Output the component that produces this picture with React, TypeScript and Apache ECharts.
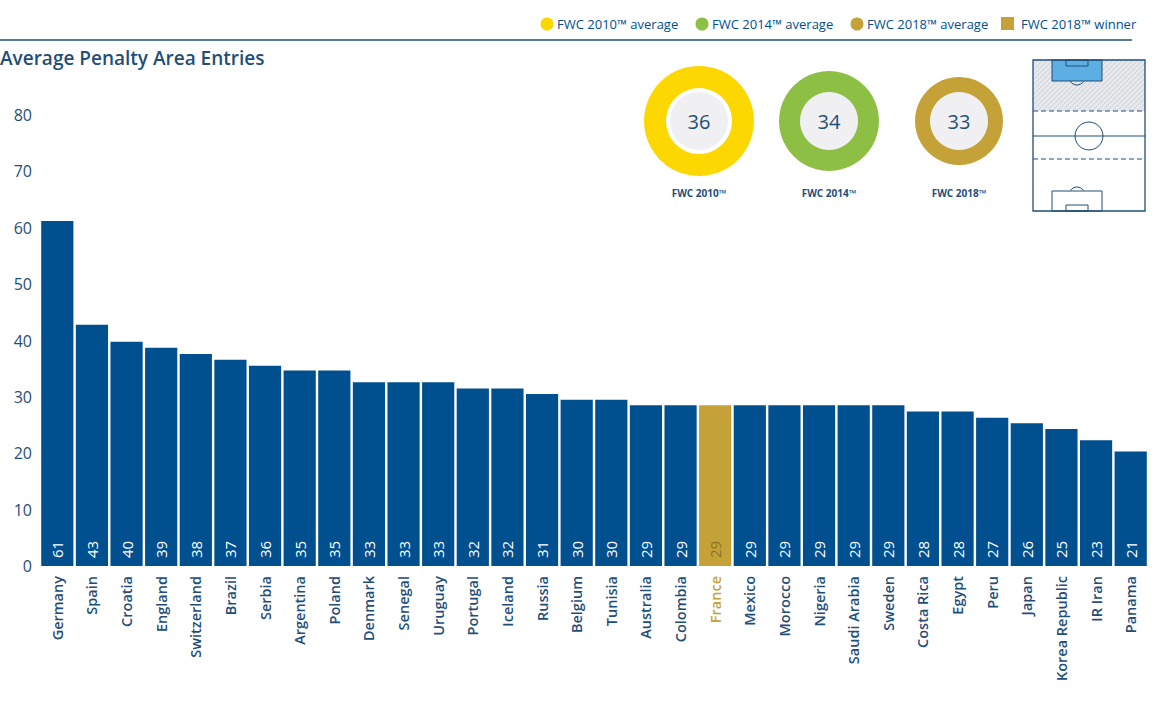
import React, { useEffect, useRef } from "react";
import * as echarts from "echarts";

const countries = ["Germany","Spain","Croatia","England","Switzerland","Brazil","Serbia","Argentina","Poland","Denmark","Senegal","Uruguay","Portugal","Iceland","Russia","Belgium","Tunisia","Australia","Colombia","France","Mexico","Morocco","Nigeria","Saudi Arabia","Sweden","Costa Rica","Egypt","Peru","Japan","Korea Republic","IR Iran","Panama"];
const values = [61,43,40,39,38,37,36,35,35,33,33,33,32,32,31,30,30,29,29,29,29,29,29,29,29,28,28,27,26,25,23,21];
const heights = [61.2,42.8,39.8,38.7,37.6,36.6,35.5,34.7,34.7,32.6,32.6,32.6,31.5,31.5,30.5,29.5,29.5,28.5,28.5,28.5,28.5,28.5,28.5,28.5,28.5,27.4,27.4,26.3,25.3,24.3,22.3,20.3];
const winner = "France";
const averages = [
  { label: "FWC 2010™", value: 36, color: "#fdd700", r: 55 },
  { label: "FWC 2014™", value: 34, color: "#8cbf44", r: 50 },
  { label: "FWC 2018™", value: 33, color: "#c4a238", r: 44 },
];
const yTicks = [0, 10, 20, 30, 40, 50, 60, 70, 80];

const BLUE = "#004f8f";
const DARK = "#1f4e79";
const GOLD = "#c4a238";

export default function App() {
  const ref = useRef<HTMLDivElement>(null);
  useEffect(() => {
    const chart = echarts.init(ref.current!, null, { renderer: "svg" });
    const centersX = [699, 829, 959];
    const g: any[] = [];
    const legend = [
      { x: 547, t: "FWC 2010™ average", c: "#fdd700", sq: false },
      { x: 702, t: "FWC 2014™ average", c: "#8cbf44", sq: false },
      { x: 857, t: "FWC 2018™ average", c: GOLD, sq: false },
      { x: 1007, t: "FWC 2018™ winner", c: GOLD, sq: true },
    ];
    legend.forEach((l) => {
      if (l.sq) g.push({ type: "rect", shape: { x: l.x - 6, y: 17, width: 13, height: 13 }, style: { fill: l.c } });
      else g.push({ type: "circle", shape: { cx: l.x, cy: 24, r: 6.5 }, style: { fill: l.c } });
      g.push({ type: "text", x: l.x + (l.sq ? 14 : 10), y: 24, style: { text: l.t, fill: BLUE, font: "13px 'Open Sans'", verticalAlign: "middle" } });
    });
    g.push({ type: "line", shape: { x1: 0, y1: 40, x2: 1132, y2: 40 }, style: { stroke: DARK, lineWidth: 1.5 } });
    g.push({ type: "text", x: 0, y: 58, style: { text: "Average Penalty Area Entries", fill: DARK, font: "600 19px 'Open Sans'", verticalAlign: "middle" } });
    averages.forEach((a, i) => {
      const cx = centersX[i];
      g.push({ type: "ring", shape: { cx, cy: 121, r: a.r, r0: a.r - 22 }, style: { fill: a.color } });
      g.push({ type: "circle", shape: { cx, cy: 121, r: 29 }, style: { fill: "#f0f0f2" } });
      g.push({ type: "text", x: cx, y: 121, style: { text: String(a.value), fill: DARK, font: "20px 'Open Sans'", align: "center", verticalAlign: "middle" } });
      g.push({ type: "text", x: cx, y: 193, style: { text: a.label, fill: DARK, font: "bold 10px 'Open Sans'", align: "center", verticalAlign: "middle" } });
    });
    // pitch
    const px = 1033, py = 60, pw = 112, hh = 51;
    g.push({ type: "rect", shape: { x: px, y: py, width: pw, height: hh }, style: { fill: "#e6e8ec" } });
    for (let k = -hh; k < pw; k += 5) {
      // line from (px+k, py+hh) to (px+k+hh, py), clipped to [px, px+pw]
      let x1 = px + k, y1 = py + hh, x2 = px + k + hh, y2 = py;
      if (x1 < px) { y1 -= px - x1; x1 = px; }
      if (x2 > px + pw) { y2 += x2 - (px + pw); x2 = px + pw; }
      g.push({ type: "line", shape: { x1, y1, x2, y2 }, style: { stroke: "#c2c7d0", lineWidth: 0.7 } });
    }
    g.push({ type: "rect", shape: { x: 1052, y: py, width: 50, height: 21 }, style: { fill: "#5daee3", stroke: DARK, lineWidth: 1 } });
    g.push({ type: "rect", shape: { x: 1066, y: py, width: 22, height: 6 }, style: { fill: "none", stroke: DARK, lineWidth: 1 } });
    g.push({ type: "arc", shape: { cx: 1077, cy: 77, r: 8, startAngle: 0.6, endAngle: Math.PI - 0.6 }, style: { stroke: DARK, fill: "none", lineWidth: 1 } });
    g.push({ type: "rect", shape: { x: px, y: py, width: pw, height: 151 }, style: { fill: "none", stroke: DARK, lineWidth: 1.3 } });
    g.push({ type: "line", shape: { x1: px, y1: 111, x2: px + pw, y2: 111 }, style: { stroke: DARK, lineWidth: 1, lineDash: [5, 3] } });
    g.push({ type: "line", shape: { x1: px, y1: 159, x2: px + pw, y2: 159 }, style: { stroke: DARK, lineWidth: 1, lineDash: [5, 3] } });
    g.push({ type: "line", shape: { x1: px, y1: 136, x2: px + pw, y2: 136 }, style: { stroke: DARK, lineWidth: 1 } });
    g.push({ type: "circle", shape: { cx: 1089, cy: 136, r: 14 }, style: { fill: "none", stroke: DARK, lineWidth: 1 } });
    g.push({ type: "rect", shape: { x: 1052, y: 191, width: 50, height: 20 }, style: { fill: "none", stroke: DARK, lineWidth: 1 } });
    g.push({ type: "rect", shape: { x: 1066, y: 205, width: 22, height: 6 }, style: { fill: "none", stroke: DARK, lineWidth: 1 } });
    g.push({ type: "arc", shape: { cx: 1077, cy: 195, r: 8, startAngle: Math.PI + 0.6, endAngle: 2 * Math.PI - 0.6 }, style: { stroke: DARK, fill: "none", lineWidth: 1 } });

    chart.setOption({
      animation: false,
      grid: { left: 40, right: 8, top: 115, bottom: 135 },
      xAxis: {
        type: "category",
        data: countries,
        axisLine: { show: false },
        axisTick: { show: false },
        axisLabel: {
          rotate: 90,
          interval: 0,
          margin: 10,
          fontFamily: "Open Sans",
          fontWeight: 600,
          fontSize: 14.5,
          color: (v: string) => (v === winner ? GOLD : DARK),
        },
      },
      yAxis: {
        type: "value",
        min: 0,
        max: 80,
        interval: 10,
        splitLine: { show: false },
        axisLabel: { fontFamily: "Open Sans", fontSize: 16, color: DARK, margin: 8, formatter: (v: number) => (yTicks.includes(v) ? String(v) : "") },
      },
      series: [
        {
          type: "bar",
          barCategoryGap: "7%",
          data: heights.map((h, i) => ({
            value: h,
            itemStyle: { color: countries[i] === winner ? GOLD : BLUE },
            label: {
              show: true,
              position: "insideBottom",
              rotate: 90,
              align: "left",
              verticalAlign: "middle",
              distance: 8,
              formatter: String(values[i]),
              color: countries[i] === winner ? "#8a7326" : "#fff",
              fontFamily: "Open Sans",
              fontSize: 15,
            },
          })),
        },
      ],
      graphic: g,
    });
    return () => chart.dispose();
  }, []);
  return <div ref={ref} style={{ width: 1156, height: 701, position: "absolute", left: 0, top: 0 }} />;
}
